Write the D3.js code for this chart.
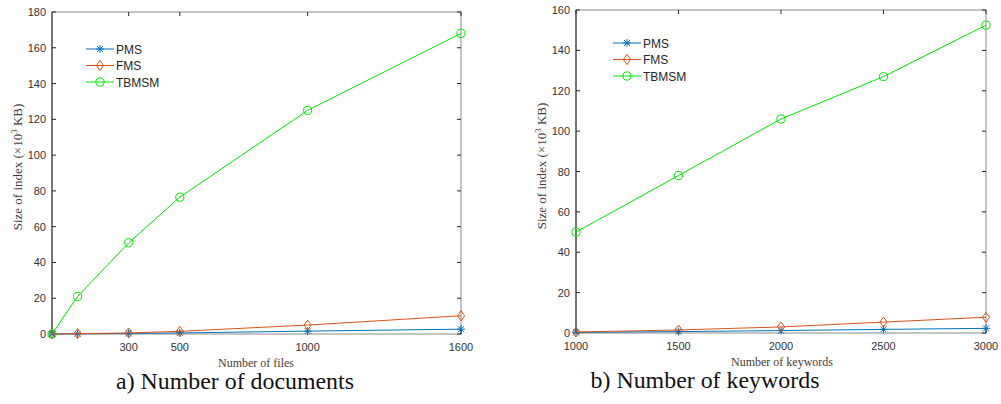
<!DOCTYPE html>
<html>
<head>
<meta charset="utf-8">
<script src="https://cdn.jsdelivr.net/npm/d3@7"></script>
<style>
    body { margin: 0; background: #fff; }
    svg { display: block; }
</style>
</head>
<body>
<div id="chart"></div>
<script>
// Index size vs. number of files / keywords
const seriesNames = ['PMS', 'FMS', 'TBMSM'];
const seriesColors = ['#0072BD', '#D95319', '#00E600'];

const filesX = [0, 100, 300, 500, 1000, 1600];
const filesTicks = [300, 500, 1000, 1600];
const filesPMS = [0, 0.1, 0.3, 0.6, 1.6, 2.7];
const filesFMS = [0, 0.2, 0.6, 1.5, 5, 10.2];
const filesTBMSM = [0, 21, 51, 76.5, 125, 168];
const filesYTicks = [0, 20, 40, 60, 80, 100, 120, 140, 160, 180];

const keywordsX = [1000, 1500, 2000, 2500, 3000];
const keywordsTicks = [1000, 1500, 2000, 2500, 3000];
const keywordsPMS = [0.3, 0.7, 1.2, 1.8, 2.3];
const keywordsFMS = [0.5, 1.5, 3, 5.4, 7.8];
const keywordsTBMSM = [50, 78, 106, 127, 152.5];
const keywordsYTicks = [0, 20, 40, 60, 80, 100, 120, 140, 160];

const width = 1001;
const height = 404;
const serif = '"Liberation Serif", "Times New Roman", Times, serif';
const sans = 'Arial, "Liberation Sans", sans-serif';

const svg = d3.select('#chart')
    .append('svg')
    .attr('width', width)
    .attr('height', height);

svg.append('rect').attr('width', width).attr('height', height).attr('fill', '#fff');

function markerPath(name) {
    if (name === 'PMS') {
        return 'M-4,0L4,0M0,-4L0,4M-3,-3L3,3M-3,3L3,-3';
    }
    if (name === 'FMS') {
        return 'M0,-5L3.6,0L0,5L-3.6,0Z';
    }
    return d3.symbol(d3.symbolCircle, 52)();
}

function drawPanel(cfg) {
    const x = d3.scaleLinear().domain(cfg.xDomain).range([cfg.left, cfg.right]);
    const y = d3.scaleLinear().domain(cfg.yDomain).range([cfg.bottom, cfg.top]);
    const g = svg.append('g');
    const tickLen = 4;

    // box
    g.append('rect')
        .attr('x', cfg.left).attr('y', cfg.top)
        .attr('width', cfg.right - cfg.left).attr('height', cfg.bottom - cfg.top)
        .attr('fill', 'none').attr('stroke', '#8a8a8a').attr('stroke-width', 1);
    g.append('line')
        .attr('x1', cfg.left).attr('x2', cfg.left)
        .attr('y1', cfg.top).attr('y2', cfg.bottom)
        .attr('stroke', '#262626');

    // y ticks, both sides inward
    cfg.yTicks.forEach((t) => {
        g.append('line')
            .attr('x1', cfg.left).attr('x2', cfg.left + tickLen)
            .attr('y1', y(t)).attr('y2', y(t)).attr('stroke', '#262626');
        g.append('line')
            .attr('x1', cfg.right).attr('x2', cfg.right - tickLen)
            .attr('y1', y(t)).attr('y2', y(t)).attr('stroke', '#262626');
        g.append('text')
            .attr('x', cfg.left - 6).attr('y', y(t) + 4)
            .attr('text-anchor', 'end')
            .attr('font-family', sans)
            .attr('font-size', 11)
            .attr('fill', '#333')
            .text(t);
    });

    // x ticks, top and bottom inward
    cfg.xTicks.forEach((t) => {
        g.append('line')
            .attr('x1', x(t)).attr('x2', x(t))
            .attr('y1', cfg.bottom).attr('y2', cfg.bottom - tickLen).attr('stroke', '#262626');
        g.append('line')
            .attr('x1', x(t)).attr('x2', x(t))
            .attr('y1', cfg.top).attr('y2', cfg.top + tickLen).attr('stroke', '#262626');
        g.append('text')
            .attr('x', x(t)).attr('y', cfg.bottom + 17)
            .attr('text-anchor', 'middle')
            .attr('font-family', sans)
            .attr('font-size', 11)
            .attr('fill', '#333')
            .text(t);
    });

    // series
    const line = d3.line().x((d) => x(d[0])).y((d) => y(d[1]));
    cfg.series.forEach((values, i) => {
        const pts = cfg.xs.map((xv, j) => [xv, values[j]]);
        g.append('path')
            .datum(pts)
            .attr('d', line)
            .attr('fill', 'none')
            .attr('stroke', seriesColors[i])
            .attr('stroke-width', 1);
        g.selectAll(null)
            .data(pts)
            .join('path')
            .attr('transform', (d) => `translate(${x(d[0])},${y(d[1])})`)
            .attr('d', markerPath(seriesNames[i]))
            .attr('fill', 'none')
            .attr('stroke', seriesColors[i])
            .attr('stroke-width', 1);
    });

    // legend
    seriesNames.forEach((name, i) => {
        const ly = cfg.legendY + i * 16.5;
        const lg = g.append('g');
        lg.append('line')
            .attr('x1', cfg.legendX).attr('x2', cfg.legendX + 28)
            .attr('y1', ly).attr('y2', ly)
            .attr('stroke', seriesColors[i]);
        lg.append('path')
            .attr('transform', `translate(${cfg.legendX + 14},${ly})`)
            .attr('d', markerPath(name))
            .attr('fill', 'none')
            .attr('stroke', seriesColors[i]);
        lg.append('text')
            .attr('x', cfg.legendX + 30).attr('y', ly + 4.5)
            .attr('font-family', sans)
            .attr('font-size', 12)
            .attr('fill', '#262626')
            .text(name);
    });

    // axis labels
    const yl = g.append('text')
        .attr('transform', `translate(${cfg.left - 30},${cfg.yLabelY}) rotate(-90)`)
        .attr('text-anchor', 'middle')
        .attr('font-family', serif)
        .attr('font-size', 13)
        .attr('fill', '#4a3a35');
    yl.append('tspan').text('Size of index (×10');
    yl.append('tspan').attr('font-size', 9).attr('dy', -5).text('3');
    yl.append('tspan').attr('dy', 5).text(' KB)');

    g.append('text')
        .attr('x', cfg.xLabelX).attr('y', cfg.bottom + 33)
        .attr('text-anchor', 'middle')
        .attr('font-family', serif)
        .attr('font-size', 12)
        .attr('fill', '#4a3a35')
        .text(cfg.xLabel);

    // caption, sized to the width it takes in the figure
    const caption = g.append('text')
        .attr('x', cfg.captionX).attr('y', cfg.bottom + 55)
        .attr('text-anchor', 'middle')
        .attr('font-family', serif)
        .attr('font-size', 24)
        .attr('fill', '#111')
        .text(cfg.caption);
    const measured = caption.node().getComputedTextLength();
    if (measured > 0) {
        caption.attr('font-size', Math.min(28, 24 * cfg.captionWidth / measured));
    }
}

drawPanel({
    left: 52, right: 461, top: 12, bottom: 334,
    xDomain: [0, 1600], yDomain: [0, 180],
    xs: filesX, xTicks: filesTicks, yTicks: filesYTicks,
    series: [filesPMS, filesFMS, filesTBMSM],
    legendX: 86, legendY: 49,
    yLabelY: 167,
    xLabel: 'Number of files', xLabelX: 256,
    caption: 'a) Number of documents', captionX: 235, captionWidth: 238
});

drawPanel({
    left: 576, right: 986, top: 10, bottom: 333,
    xDomain: [1000, 3000], yDomain: [0, 160],
    xs: keywordsX, xTicks: keywordsTicks, yTicks: keywordsYTicks,
    series: [keywordsPMS, keywordsFMS, keywordsTBMSM],
    legendX: 613, legendY: 43,
    yLabelY: 166,
    xLabel: 'Number of keywords', xLabelX: 782,
    caption: 'b) Number of keywords', captionX: 705, captionWidth: 229
});
</script>
</body>
</html>
